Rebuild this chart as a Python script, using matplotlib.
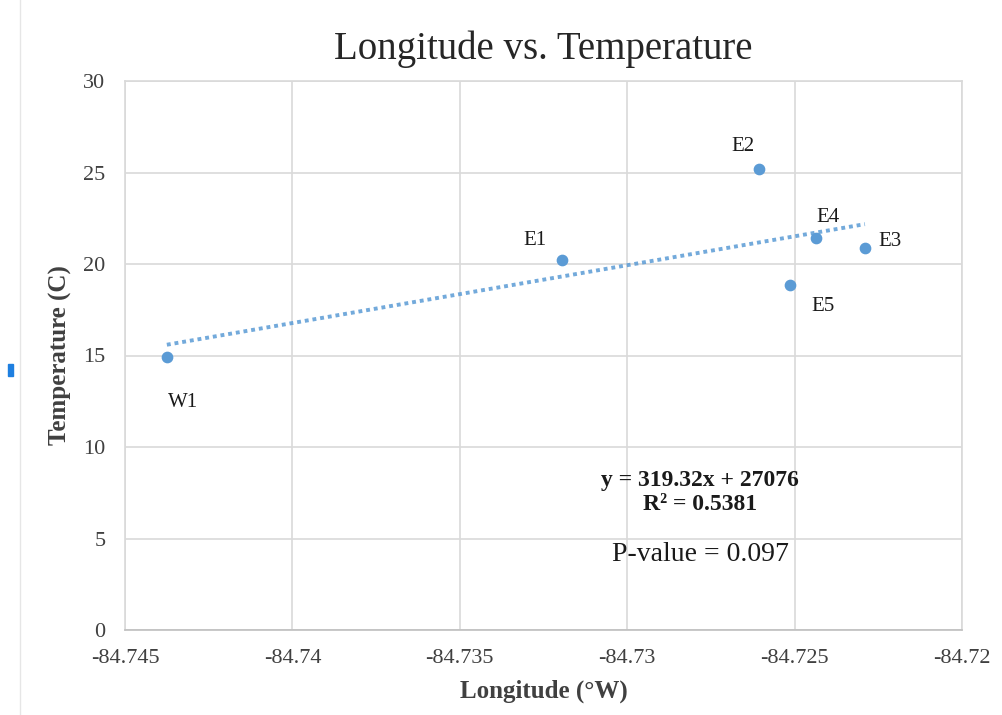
import numpy as np
import matplotlib
matplotlib.use("Agg")
import matplotlib.pyplot as plt
from matplotlib.patches import Rectangle
from matplotlib.lines import Line2D

plt.rcParams['font.family'] = ['Liberation Serif', 'DejaVu Serif']

sites = ["W1", "E1", "E2", "E4", "E3", "E5"]
longitude = [-84.74375, -84.73195, -84.72606, -84.72436, -84.7229, -84.72514]
temperature = [14.9, 20.2, 25.2, 21.4, 20.9, 18.85]
# label offsets in pixels from each point
label_offsets = [(16, -45), (-27, 20), (-16, 22), (12, 21), (25, 6), (33, -21)]

x_ticks = [-84.745, -84.74, -84.735, -84.73, -84.725, -84.72]
x_tick_labels = ["-84.745", "-84.74", "-84.735", "-84.73", "-84.725", "-84.72"]
y_ticks = [0, 5, 10, 15, 20, 25, 30]

blue = '#5b9bd5'
grid_col = '#d9d9d9'
text_col = '#404040'

fig = plt.figure(figsize=(10.02, 7.15), dpi=100)
ax = fig.add_axes([125 / 1002, 1 - 630 / 715, 837 / 1002, 549 / 715])

ax.scatter(longitude, temperature, s=55, color=blue, zorder=3)

# linear trendline
coef = np.polyfit(longitude, temperature, 1)
xs = np.array([min(longitude), max(longitude)])
ax.plot(xs, np.polyval(coef, xs), linestyle=(0, (1, 1)), color=blue,
        linewidth=2.8, alpha=0.85, zorder=2)

for name, x, y, off in zip(sites, longitude, temperature, label_offsets):
    ax.annotate(name, (x, y), xytext=off, textcoords='offset pixels',
                ha='center', va='center', fontsize=15, color='#1a1a1a')

ax.set_xlim(-84.745, -84.72)
ax.set_ylim(0, 30)
ax.set_xticks(x_ticks)
ax.set_xticklabels(x_tick_labels)
ax.set_yticks(y_ticks)
ax.tick_params(length=0, labelsize=16, labelcolor=text_col)
ax.tick_params(axis='x', pad=14)
ax.tick_params(axis='y', pad=14)
ax.grid(True, color=grid_col, linewidth=1.2)
ax.set_axisbelow(True)
for s in ax.spines.values():
    s.set_color(grid_col)
    s.set_linewidth(1.2)
ax.spines['bottom'].set_color('#bfbfbf')

ax.set_title('Longitude vs. Temperature', fontsize=28, color='#262626', pad=16)
ax.set_xlabel('Longitude (°W)', fontsize=18, fontweight='bold', color=text_col, labelpad=8)
ax.set_ylabel('Temperature (C)', fontsize=18, fontweight='bold', color=text_col, labelpad=8)

ax.text(0.687, 0.273, 'y = 319.32x + 27076', transform=ax.transAxes, ha='center',
        va='center', fontsize=17, fontweight='bold', color='#1a1a1a')
ax.text(0.687, 0.228, 'R² = 0.5381', transform=ax.transAxes, ha='center',
        va='center', fontsize=17, fontweight='bold', color='#1a1a1a')
ax.text(0.687, 0.137, 'P-value = 0.097', transform=ax.transAxes, ha='center',
        va='center', fontsize=20, color='#1a1a1a')

# screenshot border and marker on the left edge
fig.add_artist(Line2D([20 / 1002, 20 / 1002], [0, 1], color='#e6e6e6', linewidth=1))
fig.add_artist(Rectangle((8 / 1002, 1 - 376 / 715), 5 / 1002, 12 / 715,
                         color='#1e7fe0', transform=fig.transFigure))

fig.savefig('out.png', dpi=100)
